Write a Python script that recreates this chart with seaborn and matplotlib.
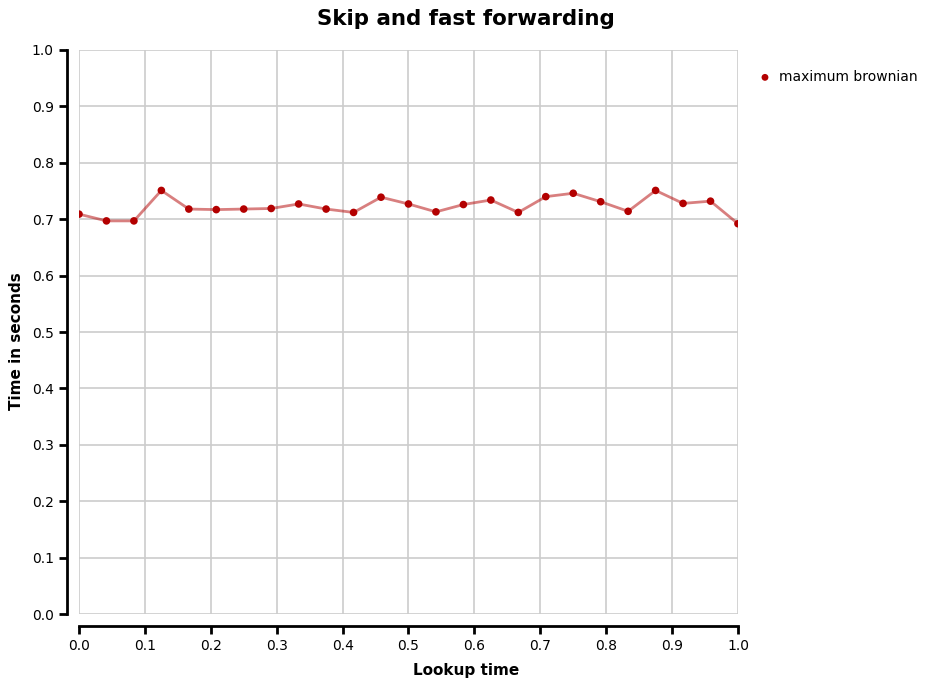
import numpy as np
import pandas as pd
import seaborn as sns
import matplotlib.pyplot as plt

# lookup time (25 evenly spaced samples 0..1) and measured times
lookup = [i / 24 for i in range(25)]
seconds = [0.709, 0.697, 0.697, 0.751, 0.718, 0.717, 0.718, 0.719, 0.727, 0.718,
           0.712, 0.739, 0.727, 0.713, 0.726, 0.734, 0.712, 0.740, 0.746, 0.731,
           0.714, 0.751, 0.728, 0.732, 0.692]
series_name = "maximum brownian"
tick_vals = [0.0, 0.1, 0.2, 0.3, 0.4, 0.5, 0.6, 0.7, 0.8, 0.9, 1.0]

df = pd.DataFrame({"Lookup time": lookup, "Time in seconds": seconds})

sns.set_style("whitegrid", {"grid.color": "#cccccc", "axes.edgecolor": "black",
                            "xtick.bottom": True, "ytick.left": True,
                            "text.color": "black", "axes.labelcolor": "black",
                            "xtick.color": "black", "ytick.color": "black"})
plt.rcParams["font.family"] = ["DejaVu Sans"]

fig = plt.figure(figsize=(9.25, 6.83), dpi=100)
ax = fig.add_axes([0.0854, 0.101, 0.7124, 0.8258])

sns.lineplot(data=df, x="Lookup time", y="Time in seconds", ax=ax,
             color="#b30000", alpha=0.5, linewidth=2)
sns.scatterplot(data=df, x="Lookup time", y="Time in seconds", ax=ax,
                color="#b30000", s=30, edgecolor="none", label=series_name, zorder=3)

ax.set_xlim(0, 1)
ax.set_ylim(0, 1)
ax.set_xticks(tick_vals)
ax.set_yticks(tick_vals)
ax.set_xticklabels([f"{v:.1f}" for v in tick_vals])
ax.set_yticklabels([f"{v:.1f}" for v in tick_vals])
ax.grid(True, color="#cccccc", linewidth=1.2)
ax.tick_params(axis="both", direction="out", length=6, width=2, labelsize=10,
               color="black", labelcolor="black")

sns.despine(ax=ax, offset=8.6, trim=True)
for s in ("left", "bottom"):
    ax.spines[s].set_linewidth(2)
    ax.spines[s].set_color("black")

# labels and title are centred on the whole figure
ax.set_xlabel("")
ax.set_ylabel("")
fig.text(0.504, 1 - 671 / 683, "Lookup time", ha="center", va="center",
         fontsize=11, fontweight="bold", color="black")
fig.text(17 / 925, 0.5, "Time in seconds", ha="center", va="center", rotation=90,
         fontsize=11, fontweight="bold", color="black")
fig.text(0.504, 1 - 19 / 683, "Skip and fast forwarding", ha="center", va="center",
         fontsize=15.4, fontweight="bold", color="black")

leg = ax.legend(loc="upper left", bbox_to_anchor=(0.8195, 0.8975), bbox_transform=fig.transFigure,
                frameon=False, fontsize=10, borderpad=0, borderaxespad=0,
                handlelength=1, handletextpad=0.5, markerscale=0.9)
for t in leg.get_texts():
    t.set_color("black")

fig.savefig("out.png", dpi=100)
